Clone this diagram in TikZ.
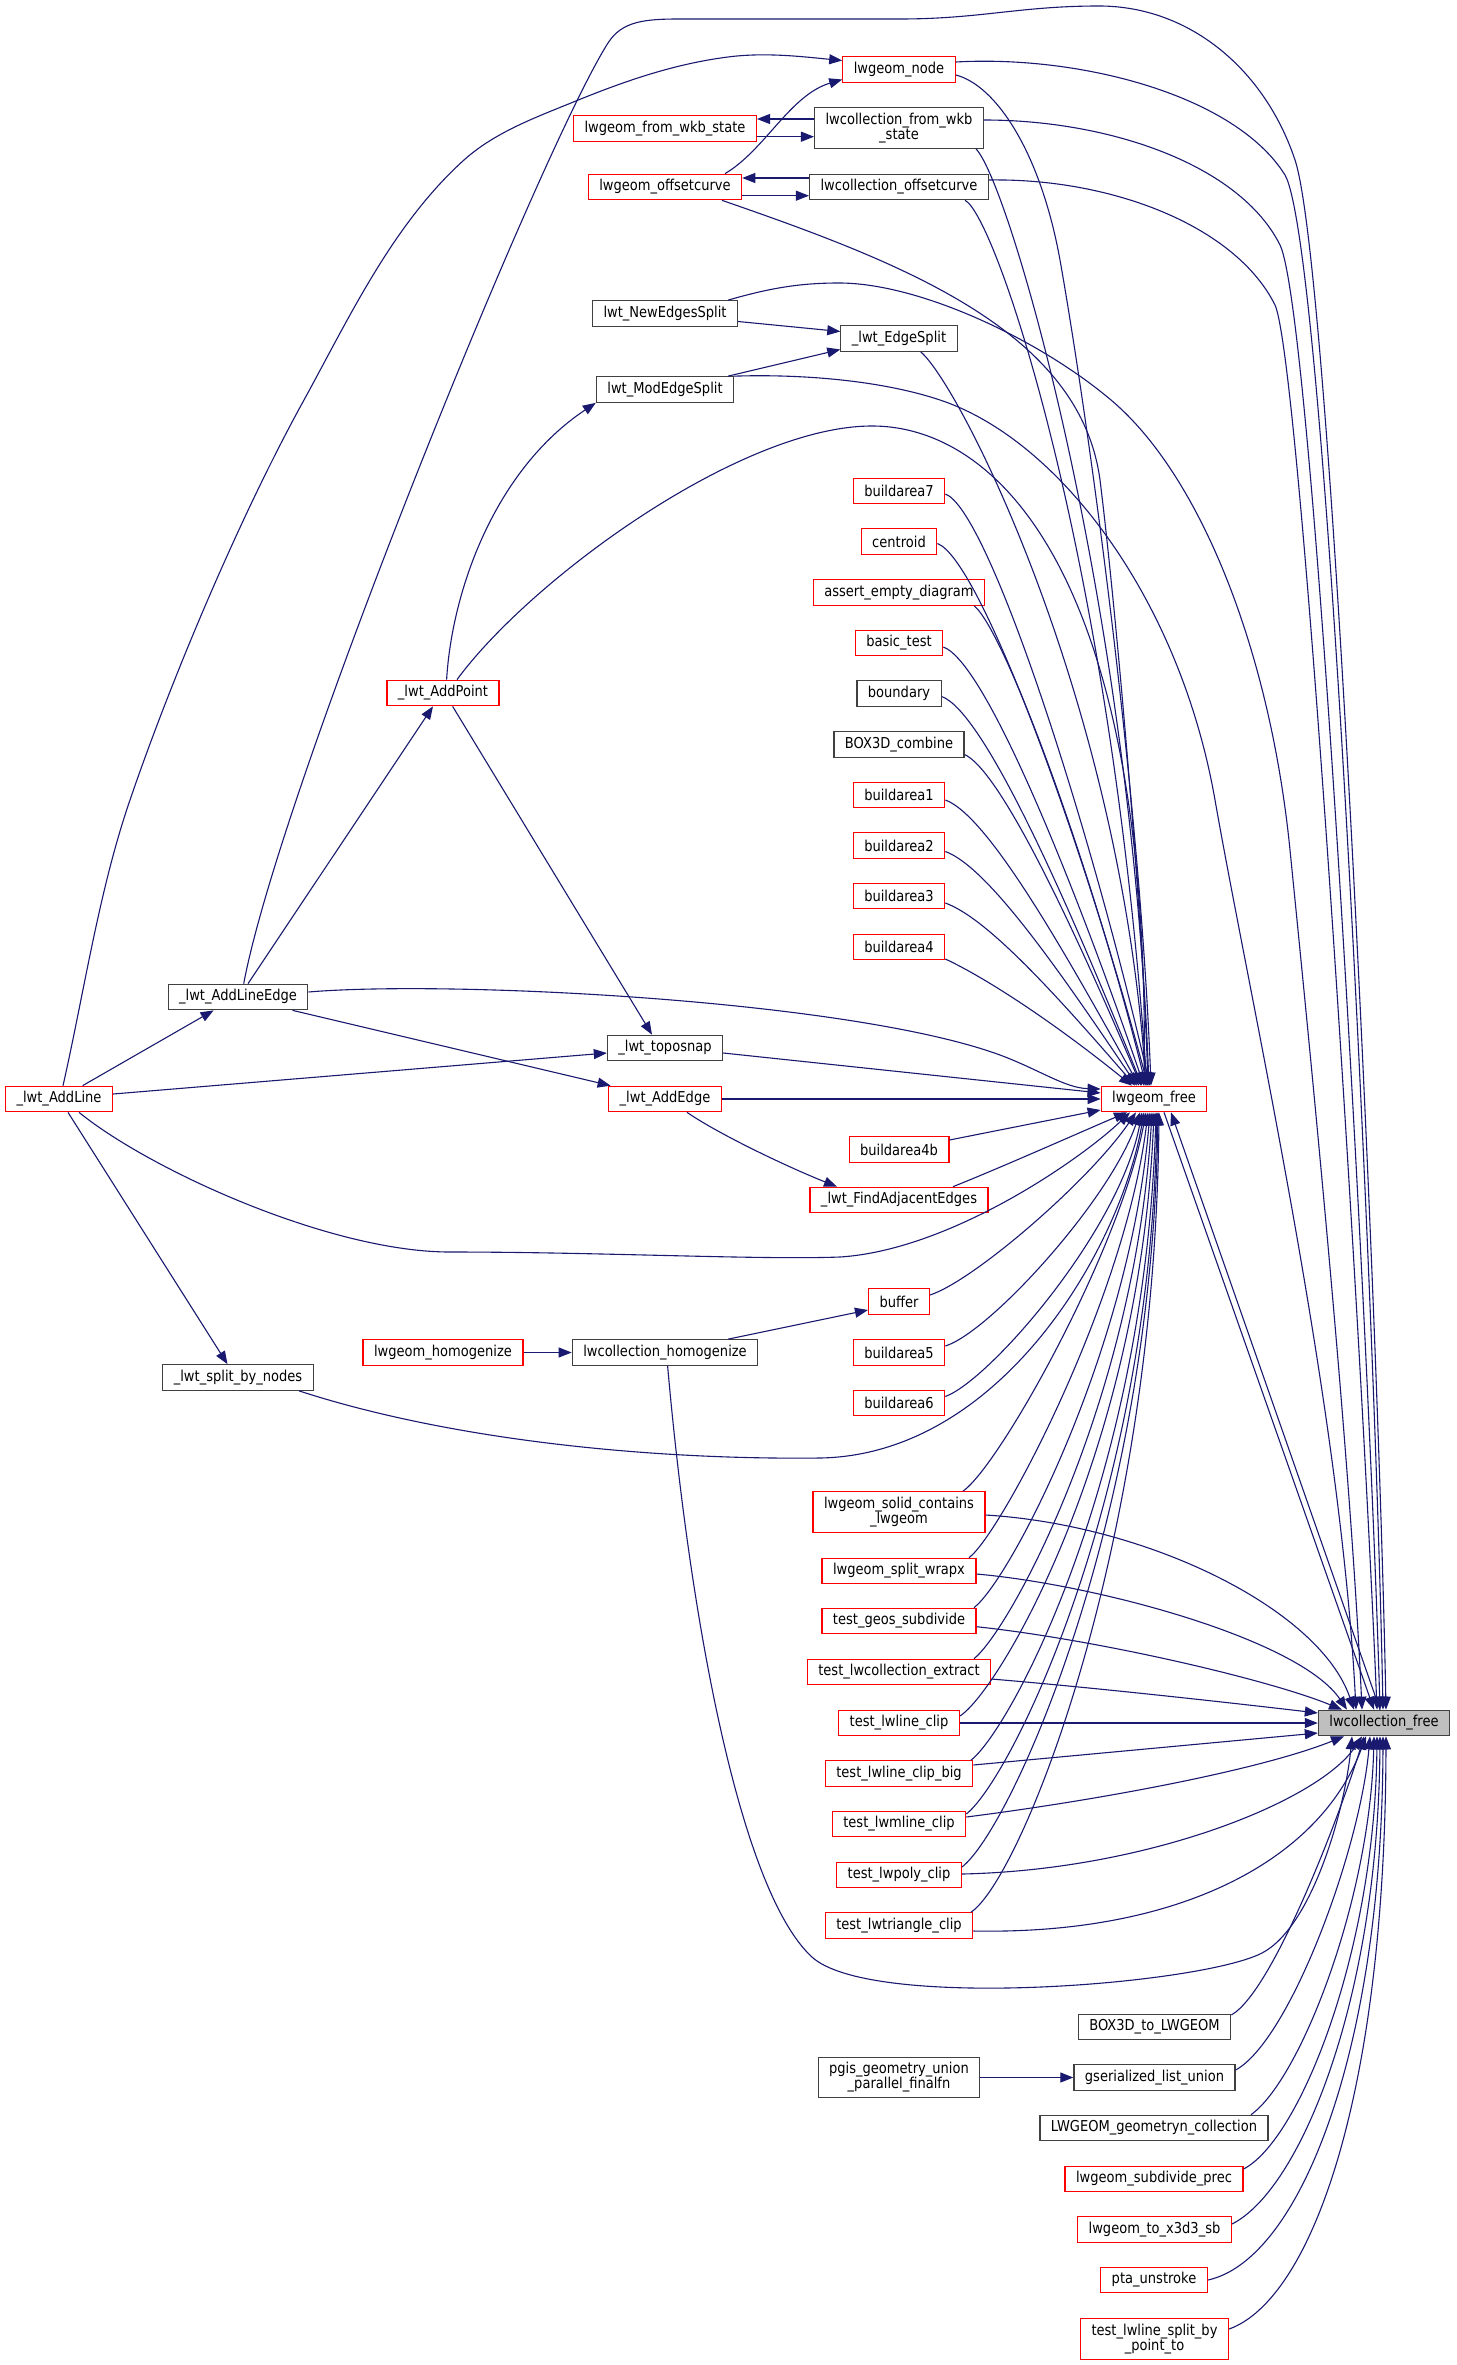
\documentclass[tikz,border=0pt]{standalone}
\usepackage{fontspec}
\setmainfont{DejaVu Sans}[FakeStretch=0.87]
\usetikzlibrary{arrows.meta}
\definecolor{edgeblue}{RGB}{25,25,112}
\definecolor{nodered}{RGB}{255,0,0}
\definecolor{nodegray}{RGB}{64,64,64}
\definecolor{hlfill}{RGB}{191,191,191}
\begin{document}
\begin{tikzpicture}[x=1pt,y=1pt,
  box/.style={draw, rectangle, line width=1.2pt, fill=white, inner xsep=11pt, inner ysep=3pt,
    minimum height=25.5pt, font=\fontsize{15pt}{15pt}\selectfont, align=center},
  rbox/.style={box, draw=nodered},
  kbox/.style={box, draw=nodegray},
  tall/.style={minimum height=40.5pt},
  edge/.style={draw=edgeblue, line width=1.1pt, -{Triangle[length=13pt,width=10pt]}}]
\useasboundingbox (0,0) rectangle (1456,-2365);
\fill[white] (0,0) rectangle (1456,-2365);

% ---------- nodes ----------
\node[rbox] (lwnode) at (899,-69.5) {lwgeom\_node};
\node[kbox,tall] (cfromwkb) at (899,-128) {lwcollection\_from\_wkb\\\_state};
\node[rbox] (gfromwkb) at (665,-128.5) {lwgeom\_from\_wkb\_state};
\node[rbox] (goffset) at (665,-187) {lwgeom\_offsetcurve};
\node[kbox] (coffset) at (899,-187) {lwcollection\_offsetcurve};
\node[kbox] (newsplit) at (665,-313.5) {lwt\_NewEdgesSplit};
\node[kbox] (edgesplit) at (899,-338.5) {\_lwt\_EdgeSplit};
\node[kbox] (modsplit) at (665,-389.5) {lwt\_ModEdgeSplit};
\node[rbox] (ba7) at (899,-491) {buildarea7};
\node[rbox] (centroid) at (899,-541.5) {centroid};
\node[rbox] (assert) at (899,-592.5) {assert\_empty\_diagram};
\node[rbox] (basic) at (899,-643) {basic\_test};
\node[kbox] (boundary) at (899,-693.5) {boundary};
\node[kbox] (b3dcomb) at (899,-744.5) {BOX3D\_combine};
\node[rbox] (ba1) at (899,-795) {buildarea1};
\node[rbox] (ba2) at (899,-845.5) {buildarea2};
\node[rbox] (ba3) at (899,-896) {buildarea3};
\node[rbox] (ba4) at (899,-947) {buildarea4};
\node[rbox] (addpoint) at (443,-693) {\_lwt\_AddPoint};
\node[kbox] (addlineedge) at (238,-997) {\_lwt\_AddLineEdge};
\node[kbox] (toposnap) at (665,-1048) {\_lwt\_toposnap};
\node[rbox] (addline) at (59,-1099) {\_lwt\_AddLine};
\node[rbox] (addedge) at (665,-1099) {\_lwt\_AddEdge};
\node[rbox] (gfree) at (1154,-1099) {lwgeom\_free};
\node[rbox] (ba4b) at (899,-1149.5) {buildarea4b};
\node[rbox] (findadj) at (899,-1200) {\_lwt\_FindAdjacentEdges};
\node[rbox] (buffer) at (899,-1301.5) {buffer};
\node[rbox] (ghomog) at (443,-1352.5) {lwgeom\_homogenize};
\node[kbox] (chomog) at (665,-1352.5) {lwcollection\_homogenize};
\node[rbox] (ba5) at (899,-1352.5) {buildarea5};
\node[kbox] (splitnodes) at (238,-1377.5) {\_lwt\_split\_by\_nodes};
\node[rbox] (ba6) at (899,-1403) {buildarea6};
\node[rbox,tall] (solid) at (899,-1512) {lwgeom\_solid\_contains\\\_lwgeom};
\node[rbox] (splitwrapx) at (899,-1571) {lwgeom\_split\_wrapx};
\node[rbox] (geossub) at (899,-1621) {test\_geos\_subdivide};
\node[rbox] (collextract) at (899,-1672) {test\_lwcollection\_extract};
\node[rbox] (lineclip) at (899,-1723) {test\_lwline\_clip};
\node[kbox,fill=hlfill] (cfree) at (1384,-1723) {lwcollection\_free};
\node[rbox] (lineclipbig) at (899,-1773.5) {test\_lwline\_clip\_big};
\node[rbox] (mlineclip) at (899,-1824) {test\_lwmline\_clip};
\node[rbox] (polyclip) at (899,-1875) {test\_lwpoly\_clip};
\node[rbox] (triclip) at (899,-1925.5) {test\_lwtriangle\_clip};
\node[kbox] (b3dto) at (1154.5,-2027) {BOX3D\_to\_LWGEOM};
\node[kbox,tall] (pgis) at (899,-2077.5) {pgis\_geometry\_union\\\_parallel\_finalfn};
\node[kbox] (gserial) at (1154.5,-2077.5) {gserialized\_list\_union};
\node[kbox] (geomn) at (1154,-2128) {LWGEOM\_geometryn\_collection};
\node[rbox] (subdiv) at (1154,-2179) {lwgeom\_subdivide\_prec};
\node[rbox] (x3d) at (1154.5,-2229.5) {lwgeom\_to\_x3d3\_sb};
\node[rbox] (ptaun) at (1154,-2280) {pta\_unstroke};
\node[rbox,tall] (splitby) at (1154.5,-2339) {test\_lwline\_split\_by\\\_point\_to};

% ---------- long top routes ----------
\draw[edge] ([xshift=4pt]addline.north) .. controls (84,-993) and (99,-890) .. (130,-800)
  .. controls (172,-677) and (241,-514) .. (304,-400)
  .. controls (350,-316) and (393,-224) .. (464,-160)
  .. controls (494,-133) and (534,-118) .. (571,-103)
  .. controls (622,-82) and (673,-64) .. (728,-57)
  .. controls (766,-52) and (805,-57) .. ([yshift=9pt]lwnode.west);
\draw[edge] ([xshift=5.7pt]addlineedge.north) .. controls (280,-790) and (540,-150) .. (608,-43)
  .. controls (622,-21) and (645,-19) .. (680,-19) -- (900,-19)
  .. controls (980,-19) and (1020,-6) .. (1099,-6)
  .. controls (1190,-6) and (1265,-70) .. (1295,-160)
  .. controls (1330,-265) and (1378,-1300) .. ([xshift=2pt]cfree.north);
\draw[edge] ([yshift=7.5pt]lwnode.east) .. controls (1080,-55) and (1235,-95) .. (1285,-175)
  .. controls (1325,-245) and (1375,-1300) .. ([xshift=-1pt]cfree.north);
\draw[edge] ([yshift=8pt]cfromwkb.east) .. controls (1110,-120) and (1240,-165) .. (1280,-245)
  .. controls (1312,-310) and (1368,-1300) .. ([xshift=-4pt]cfree.north);
\draw[edge] ([yshift=7pt]coffset.east) .. controls (1110,-178) and (1235,-225) .. (1275,-305)
  .. controls (1300,-360) and (1360,-1300) .. ([xshift=-7pt]cfree.north);
\draw[edge] ([xshift=63pt]newsplit.north) .. controls (770,-288) and (800,-283) .. (839,-283)
  .. controls (920,-283) and (1040,-340) .. (1111,-400)
  .. controls (1200,-475) and (1270,-650) .. (1290,-850)
  .. controls (1310,-1050) and (1350,-1450) .. ([xshift=-22pt]cfree.north);
\draw[edge] (modsplit.north east) .. controls (800,-374) and (880,-380) .. (940,-400)
  .. controls (1060,-440) and (1180,-600) .. (1215,-800)
  .. controls (1250,-1000) and (1340,-1400) .. ([xshift=-28pt]cfree.north);

% ---------- into lwgeom_free from above ----------
\draw[edge] ([yshift=-5.5pt]lwnode.east) .. controls (995,-85) and (1040,-150) .. (1060,-260)
  .. controls (1090,-430) and (1140,-800) .. ([xshift=-3pt]gfree.north);
\draw[edge] ([xshift=-8pt]cfromwkb.south east) .. controls (1010,-185) and (1130,-600) .. ([xshift=-5pt]gfree.north);
\draw[edge] ([xshift=-24pt]coffset.south east) .. controls (995,-215) and (1110,-550) .. ([xshift=-7pt]gfree.north);
\draw[edge] ([xshift=57pt]goffset.south) .. controls (900,-262) and (1080,-330) .. (1100,-480)
  .. controls (1115,-600) and (1142,-900) .. ([xshift=-6pt]gfree.north);
\draw[edge] ([xshift=21.7pt]edgesplit.south) .. controls (960,-385) and (1120,-700) .. ([xshift=-8pt]gfree.north);
\draw[edge] ([xshift=14pt]addpoint.north) .. controls (530,-580) and (740,-426) .. (872,-426)
  .. controls (1000,-426) and (1150,-580) .. ([xshift=-10pt]gfree.north);
\draw[edge] ([yshift=-3pt]ba7.east) to[out=-20,in=103,out distance=45pt,in distance=280pt] ([xshift=-4pt]gfree.north);
\draw[edge] ([yshift=-2pt]centroid.east) to[out=-20,in=105,out distance=45pt,in distance=260pt] ([xshift=-6pt]gfree.north);
\draw[edge] ([xshift=-11pt]assert.south east) to[out=-40,in=104,out distance=40pt,in distance=230pt] ([xshift=-8pt]gfree.north);
\draw[edge] ([yshift=-4pt]basic.east) to[out=-20,in=109,out distance=45pt,in distance=215pt] ([xshift=-10pt]gfree.north);
\draw[edge] ([yshift=-3pt]boundary.east) to[out=-20,in=112,out distance=45pt,in distance=200pt] ([xshift=-12pt]gfree.north);
\draw[edge] ([yshift=-10pt]b3dcomb.east) to[out=-25,in=113,out distance=40pt,in distance=170pt] ([xshift=-13pt]gfree.north);
\draw[edge] ([yshift=-5pt]ba1.east) to[out=-20,in=119,out distance=45pt,in distance=155pt] ([xshift=-15pt]gfree.north);
\draw[edge] ([yshift=-6pt]ba2.east) to[out=-20,in=124,out distance=45pt,in distance=140pt] ([xshift=-17pt]gfree.north);
\draw[edge] ([yshift=-7pt]ba3.east) to[out=-20,in=131,out distance=45pt,in distance=120pt] ([xshift=-19pt]gfree.north);
\draw[edge] ([yshift=-12pt]ba4.east) to[out=-25,in=141,out distance=45pt,in distance=100pt] ([xshift=-22pt]gfree.north);

% ---------- into lwgeom_free from the left ----------
\draw[edge] ([yshift=5pt]addlineedge.east) .. controls (450,-980) and (850,-1000) .. (1000,-1055)
  .. controls (1040,-1070) and (1065,-1088) .. ([yshift=10pt]gfree.west);
\draw[edge] ([yshift=-5pt]toposnap.east) -- ([yshift=6pt]gfree.west);
\draw[edge] (addedge.east) -- (gfree.west);
\draw[edge] ([yshift=9.5pt]ba4b.east) -- ([yshift=-11pt]gfree.west);
\draw[edge] ([xshift=54pt]findadj.north) .. controls (1000,-1168) and (1090,-1128) .. ([xshift=-27pt]gfree.south);

% ---------- into lwgeom_free from below ----------
\draw[edge] ([xshift=20pt]addline.south) .. controls (150,-1170) and (330,-1252) .. (450,-1252)
  .. controls (600,-1252) and (760,-1260) .. (840,-1257)
  .. controls (950,-1250) and (1080,-1160) .. ([xshift=-24pt]gfree.south);
\draw[edge] ([yshift=6.5pt]buffer.east) .. controls (975,-1280) and (1090,-1180) .. ([xshift=-18pt]gfree.south);
\draw[edge] ([yshift=6.5pt]ba5.east) .. controls (990,-1332) and (1110,-1200) .. ([xshift=-14pt]gfree.south);
\draw[edge] ([yshift=6.5pt]ba6.east) .. controls (990,-1380) and (1120,-1230) .. ([xshift=-12pt]gfree.south);
\draw[edge] ([xshift=61pt]splitnodes.south) .. controls (450,-1440) and (650,-1460) .. (820,-1458)
  .. controls (1000,-1455) and (1120,-1250) .. ([xshift=-10pt]gfree.south);
\draw[edge] ([xshift=64pt]solid.north) .. controls (1000,-1465) and (1120,-1250) .. ([xshift=-8pt]gfree.south);
\draw[edge] ([xshift=70pt]splitwrapx.north) .. controls (1000,-1535) and (1125,-1300) .. ([xshift=-6pt]gfree.south);
\draw[edge] ([xshift=75pt]geossub.north) .. controls (1010,-1580) and (1130,-1350) .. ([xshift=-4pt]gfree.south);
\draw[edge] ([xshift=75pt]collextract.north) .. controls (1010,-1630) and (1135,-1400) .. ([xshift=-2pt]gfree.south);
\draw[edge] ([yshift=7pt]lineclip.east) .. controls (1000,-1690) and (1140,-1450) .. (gfree.south);
\draw[edge] ([xshift=72pt]lineclipbig.north) .. controls (1010,-1730) and (1145,-1480) .. ([xshift=2pt]gfree.south);
\draw[edge] ([yshift=10pt]mlineclip.east) .. controls (1010,-1780) and (1150,-1500) .. ([xshift=3pt]gfree.south);
\draw[edge] ([yshift=8pt]polyclip.east) .. controls (1010,-1830) and (1152,-1520) .. ([xshift=4pt]gfree.south);
\draw[edge] ([xshift=72pt]triclip.north) .. controls (1020,-1880) and (1155,-1550) .. ([xshift=5pt]gfree.south);

% ---------- lwgeom_free <-> lwcollection_free ----------
\draw[edge] ([xshift=10pt]gfree.south) -- ([xshift=-10pt]cfree.north);
\draw[edge] ([xshift=-4pt]cfree.north) -- ([xshift=17pt]gfree.south);

% ---------- into lwcollection_free from the left ----------
\draw[edge] ([yshift=-3pt]solid.east) .. controls (1150,-1525) and (1320,-1610) .. ([xshift=-30pt]cfree.north);
\draw[edge] ([yshift=-3pt]splitwrapx.east) .. controls (1100,-1585) and (1300,-1640) .. ([xshift=-37pt]cfree.north);
\draw[edge] ([yshift=-5.7pt]geossub.east) .. controls (1100,-1640) and (1270,-1680) .. ([xshift=-42pt]cfree.north);
\draw[edge] ([yshift=-7pt]collextract.east) .. controls (1100,-1688) and (1250,-1705) .. ([yshift=10pt]cfree.west);
\draw[edge] (lineclip.east) -- (cfree.west);
\draw[edge] ([yshift=8.5pt]lineclipbig.east) -- ([yshift=-10pt]cfree.west);
\draw[edge] ([yshift=7pt]mlineclip.east) .. controls (1100,-1800) and (1260,-1770) .. ([xshift=-40pt]cfree.south);
\draw[edge] ([yshift=1pt]polyclip.east) .. controls (1150,-1870) and (1320,-1800) .. ([xshift=-22pt]cfree.south);
\draw[edge] ([yshift=-5.5pt]triclip.east) .. controls (1180,-1935) and (1320,-1860) .. ([xshift=-18pt]cfree.south);
\draw[edge] ([xshift=2.6pt]chomog.south) .. controls (690,-1620) and (740,-1890) .. (811.6,-1956.7)
  .. controls (870,-2011) and (1200,-1985) .. (1262,-1953)
  .. controls (1312,-1927) and (1345,-1810) .. ([xshift=-32pt]cfree.south);

% ---------- into lwcollection_free from below ----------
\draw[edge] ([yshift=12pt]b3dto.east) .. controls (1275,-1990) and (1345,-1800) .. ([xshift=-20pt]cfree.south);
\draw[edge] ([yshift=7.5pt]gserial.east) .. controls (1290,-2040) and (1360,-1850) .. ([xshift=-14pt]cfree.south);
\draw[edge] ([xshift=97pt]geomn.north) .. controls (1300,-2080) and (1370,-1900) .. ([xshift=-10pt]cfree.south);
\draw[edge] ([yshift=10pt]subdiv.east) .. controls (1300,-2140) and (1375,-1950) .. ([xshift=-7pt]cfree.south);
\draw[edge] ([yshift=5.5pt]x3d.east) .. controls (1300,-2190) and (1378,-2000) .. ([xshift=-4pt]cfree.south);
\draw[edge] (ptaun.east) .. controls (1300,-2260) and (1382,-2050) .. ([xshift=-1pt]cfree.south);
\draw[edge] ([yshift=10pt]splitby.east) .. controls (1310,-2300) and (1385,-2100) .. ([xshift=2pt]cfree.south);

% ---------- other edges ----------
\draw[edge] ([xshift=23.6pt]addline.north) -- ([xshift=-24.4pt]addlineedge.south);
\draw[edge] ([yshift=5pt]addline.east) -- ([yshift=-5pt]toposnap.west);
\draw[edge] ([xshift=9pt]addline.south) -- ([xshift=-10.5pt]splitnodes.north);
\draw[edge] ([xshift=60pt]goffset.north) .. controls (765,-150) and (790,-95) .. ([yshift=-10pt]lwnode.west);
\draw[edge] ([yshift=9pt]cfromwkb.west) -- ([yshift=9.5pt]gfromwkb.east);
\draw[edge] ([yshift=-8.2pt]gfromwkb.east) -- ([yshift=-8.7pt]cfromwkb.west);
\draw[edge] ([yshift=9pt]coffset.west) -- ([yshift=9pt]goffset.east);
\draw[edge] ([yshift=-8.7pt]goffset.east) -- ([yshift=-8.7pt]coffset.west);
\draw[edge] ([yshift=-8pt]newsplit.east) -- ([yshift=7pt]edgesplit.west);
\draw[edge] ([xshift=63pt]modsplit.north) -- ([yshift=-11pt]edgesplit.west);
\draw[edge] ([xshift=3.6pt]addpoint.north) .. controls (452,-590) and (495,-470) .. (modsplit.south west);
\draw[edge] ([xshift=9.6pt]addpoint.south) -- ([xshift=-13pt]toposnap.north);
\draw[edge] ([xshift=10pt]addlineedge.north) -- ([xshift=-10pt]addpoint.south);
\draw[edge] ([xshift=54.5pt]addlineedge.south) -- ([xshift=2.5pt]addedge.north west);
\draw[edge] ([xshift=22pt]addedge.south) .. controls (720,-1135) and (790,-1168) .. ([xshift=-62pt]findadj.north);
\draw[edge] (ghomog.east) -- (chomog.west);
\draw[edge] ([xshift=63pt]chomog.north) -- ([yshift=-8.5pt]buffer.west);
\draw[edge] (pgis.east) -- (gserial.west);
\end{tikzpicture}
\end{document}
